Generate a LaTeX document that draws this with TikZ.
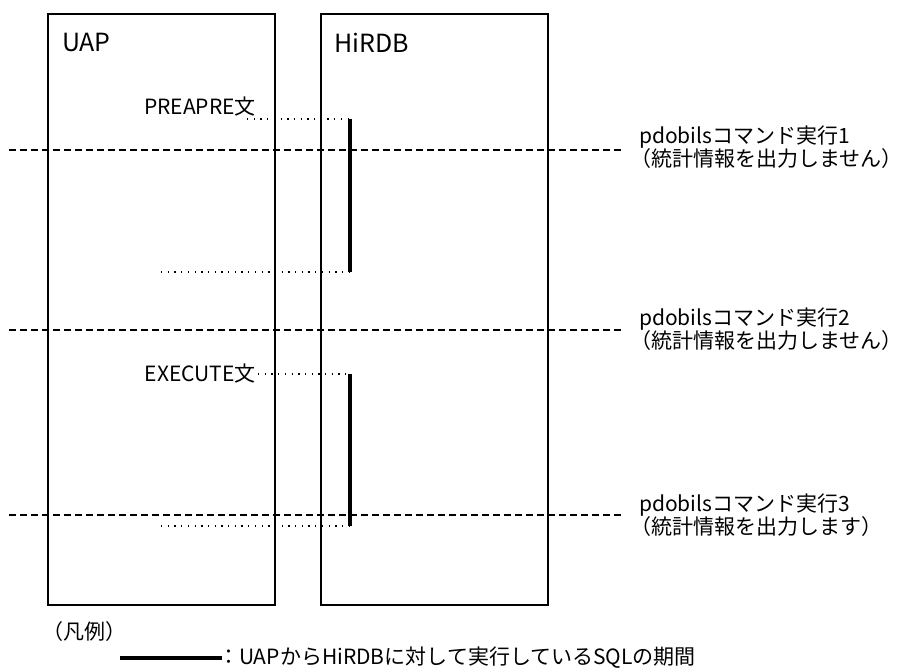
\documentclass[tikz,border=0pt]{standalone}
\usepackage{fontspec}
\setmainfont{Noto Sans CJK JP}
\begin{document}
\begin{tikzpicture}[x=1bp,y=-1bp,
  box/.style={draw, line width=1.6bp, minimum width=227bp, minimum height=591bp, inner sep=0pt, anchor=north west},
  title/.style={font=\fontsize{25bp}{30bp}\selectfont, inner sep=0pt, anchor=west},
  lbl/.style={font=\fontsize{21bp}{25bp}\selectfont, inner sep=0pt},
  cmdline/.style={line width=1.6bp, dash pattern=on 7bp off 4bp},
  dotline/.style={line width=1.3bp, dash pattern=on 1.3bp off 5.4bp},
  period/.style={line width=3.5bp}]
\useasboundingbox (0,0) rectangle (905,672);
% boxes
\node[box] (uap) at (47,13) {};
\node[box] (hirdb) at (320,13) {};
\node[title] (uapt) at (62,43) {UAP};
\node[title] (hirdbt) at (334,43) {HiRDB};
% command execution lines
\coordinate (d1s) at (9,150);  \coordinate (d1e) at (622,150);
\coordinate (d2s) at (9,330);  \coordinate (d2e) at (622,330);
\coordinate (d3s) at (9,515);  \coordinate (d3e) at (622,515);
\draw[cmdline] (d1s) -- (d1e);
\draw[cmdline] (d2s) -- (d2e);
\draw[cmdline] (d3s) -- (d3e);
\node[lbl,anchor=west] (c1a) at (639,137) {pdobilsコマンド実行1};
\node[lbl,anchor=west] (c1b) at (630,159) {（統計情報を出力しません）};
\node[lbl,anchor=west] (c2a) at (639,319) {pdobilsコマンド実行2};
\node[lbl,anchor=west] (c2b) at (630,341) {（統計情報を出力しません）};
\node[lbl,anchor=west] (c3a) at (639,505) {pdobilsコマンド実行3};
\node[lbl,anchor=west] (c3b) at (630,527) {（統計情報を出力します）};
% SQL periods
\coordinate (p1t) at (350,119); \coordinate (p1b) at (350,272);
\coordinate (p2t) at (350,374); \coordinate (p2b) at (350,526);
\draw[period] (p1t) -- (p1b);
\draw[period] (p2t) -- (p2b);
\node[lbl,anchor=base east] (prep) at (256,115) {PREAPRE文};
\coordinate (prepd) at (247,119);
\draw[dotline] (prepd) -- (p1t);
\coordinate (p1l) at (161,272);
\draw[dotline] (p1l) -- (p1b);
\node[lbl,anchor=east] (exec) at (256,374) {EXECUTE文};
\draw[dotline] ([xshift=2bp]exec.east) -- (p2t);
\coordinate (p2l) at (161,526);
\draw[dotline] (p2l) -- (p2b);
% legend
\node[lbl,anchor=west] (lgh) at (42,632) {（凡例）};
\coordinate (lgs) at (120,658); \coordinate (lge) at (222,658);
\draw[period] (lgs) -- (lge);
\node[lbl,anchor=west] (lgt) at ([xshift=-4bp]lge) {：UAPからHiRDBに対して実行しているSQLの期間};
\end{tikzpicture}
\end{document}
